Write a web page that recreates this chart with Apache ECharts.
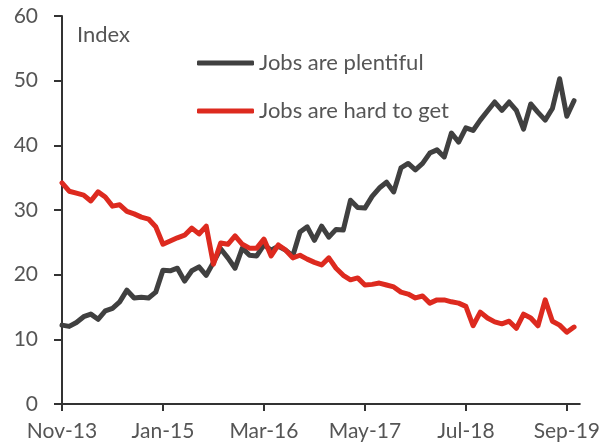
<!DOCTYPE html>
<html><head><meta charset="utf-8">
<script src="https://cdn.jsdelivr.net/npm/echarts@6/dist/echarts.min.js"></script>
<style>html,body{margin:0;padding:0;background:#fff}#c{width:603px;height:443px}</style>
</head><body><div id="c"></div>
<script>
// Monthly, Nov-13 .. Oct-19
var tickLabels = ['Nov-13','Jan-15','Mar-16','May-17','Jul-18','Sep-19'];
var plentiful = [12.2,12.0,12.6,13.5,13.9,13.1,14.4,14.8,15.8,17.6,16.4,16.5,16.4,17.3,20.7,20.6,21.0,19.0,20.6,21.2,19.9,21.9,24.0,22.6,21.0,24.1,23.0,22.9,24.6,23.8,24.4,23.8,22.9,26.6,27.4,25.3,27.5,25.8,27.0,26.9,31.5,30.4,30.3,32.1,33.4,34.3,32.8,36.5,37.2,36.2,37.2,38.8,39.3,38.2,41.9,40.5,42.7,42.3,43.9,45.3,46.7,45.4,46.7,45.4,42.5,46.4,45.1,43.9,45.7,50.3,44.5,46.9];
var hardToGet = [34.2,32.9,32.6,32.3,31.4,32.8,32.0,30.6,30.8,29.8,29.4,28.9,28.6,27.4,24.7,25.2,25.7,26.1,27.2,26.3,27.5,21.6,24.9,24.7,26.0,24.7,24.1,24.1,25.5,22.9,24.6,23.8,22.6,23.0,22.4,21.9,21.5,22.6,21.0,19.9,19.2,19.5,18.4,18.5,18.7,18.4,18.1,17.3,17.0,16.4,16.7,15.6,16.1,16.1,15.8,15.6,15.1,12.1,14.2,13.3,12.7,12.4,12.8,11.7,13.9,13.3,12.1,16.1,12.8,12.2,11.1,11.9];

function pairs(arr){return arr.map(function(v,i){return [i,v];});}
var FONT='Lato';
var chart = echarts.init(document.getElementById('c'));
chart.setOption({
  animation:false,
  backgroundColor:'#fff',
  grid:{left:62,right:21,top:16,bottom:39,containLabel:false},
  legend:{
    orient:'vertical', left:192, top:45,
    itemWidth:57, itemHeight:5, itemGap:22, icon:'roundRect',
    textStyle:{fontFamily:FONT,fontSize:22,color:'#555',lineHeight:26},
    data:['Jobs are plentiful','Jobs are hard to get']
  },
  graphic:[{type:'text',left:77,top:24,style:{text:'Index',fontFamily:FONT,fontSize:22,fill:'#555'}}],
  xAxis:{
    type:'value', min:0, max:71.8, interval:14,
    axisLine:{show:true,lineStyle:{color:'#333',width:2}},
    axisTick:{show:true,length:7,lineStyle:{color:'#333',width:2}},
    splitLine:{show:false},
    axisLabel:{margin:17,fontFamily:FONT,fontSize:21,color:'#555',showMaxLabel:false,
      formatter:function(v){var k=Math.round(v/14);return (Math.abs(v-k*14)<0.01&&tickLabels[k])?tickLabels[k]:'';}}
  },
  yAxis:{
    type:'value', min:0, max:60, interval:10,
    axisLine:{show:true,lineStyle:{color:'#333',width:2}},
    axisTick:{show:true,length:8,lineStyle:{color:'#333',width:2}},
    splitLine:{show:false},
    axisLabel:{margin:24,fontFamily:FONT,fontSize:21,color:'#555'}
  },
  series:[
    {name:'Jobs are plentiful',type:'line',data:pairs(plentiful),showSymbol:false,symbol:'none',
     lineStyle:{color:'#404040',width:5,cap:'round',join:'round'},itemStyle:{color:'#404040'}},
    {name:'Jobs are hard to get',type:'line',data:pairs(hardToGet),showSymbol:false,symbol:'none',
     lineStyle:{color:'#dd2a1f',width:5,cap:'round',join:'round'},itemStyle:{color:'#dd2a1f'}}
  ]
});
</script></body></html>
